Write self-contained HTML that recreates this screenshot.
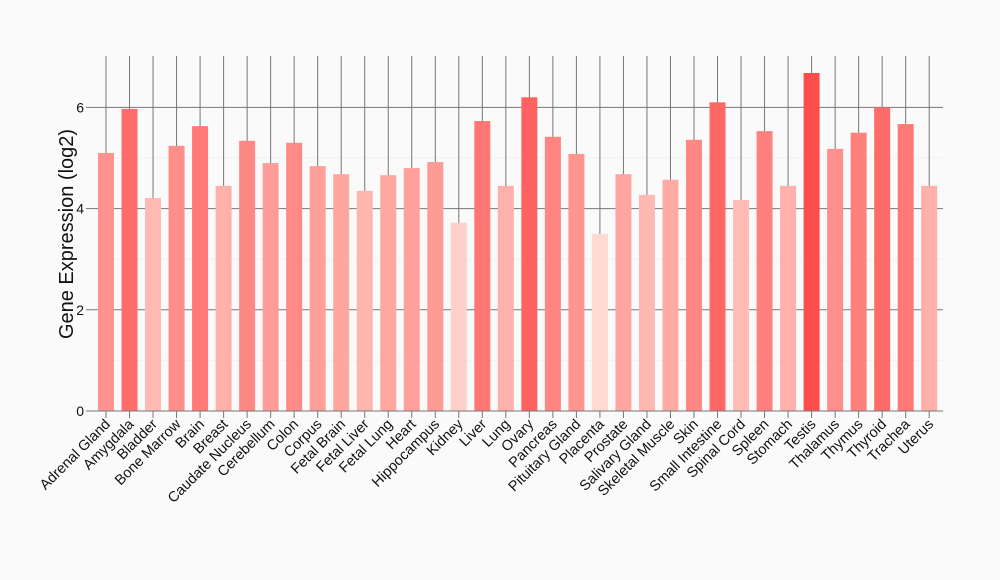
<!DOCTYPE html>
<html><head><meta charset="utf-8"><style>body{margin:0;background:#fafafa}svg{display:block}</style></head><body>
<svg id="s" width="1000" height="580" xmlns="http://www.w3.org/2000/svg" font-family="Liberation Sans, sans-serif">
<rect width="1000" height="580" fill="#fafafa"/>
<g id="g"></g>
<text transform="translate(73,234) rotate(-90)" text-anchor="middle" font-size="20" fill="#111">Gene Expression (log2)</text>
</svg>
<script>
const names=["Adrenal Gland","Amygdala","Bladder","Bone Marrow","Brain","Breast","Caudate Nucleus","Cerebellum","Colon","Corpus","Fetal Brain","Fetal Liver","Fetal Lung","Heart","Hippocampus","Kidney","Liver","Lung","Ovary","Pancreas","Pituitary Gland","Placenta","Prostate","Salivary Gland","Skeletal Muscle","Skin","Small Intestine","Spinal Cord","Spleen","Stomach","Testis","Thalamus","Thymus","Thyroid","Trachea","Uterus"];
const vals=[5.10,5.97,4.21,5.24,5.63,4.45,5.34,4.90,5.30,4.84,4.68,4.35,4.66,4.80,4.92,3.72,5.73,4.45,6.20,5.42,5.08,3.50,4.68,4.27,4.57,5.36,6.10,4.17,5.53,4.45,6.68,5.18,5.50,6.00,5.67,4.45];
const y0=411,k=50.6,x0=106,dx=23.52;
let h='';
for(const v of [2,4,6]){const y=y0-v*k;h+=`<line x1="92" x2="943" y1="${y}" y2="${y}" stroke="#777" stroke-width="1"/>`;}
for(const v of [1,3,5]){const y=y0-v*k;h+=`<line x1="92" x2="943" y1="${y}" y2="${y}" stroke="#f2f2f2" stroke-width="1"/>`;}
for(let i=0;i<36;i++){const x=x0+i*dx;h+=`<line x1="${x}" x2="${x}" y1="56" y2="418" stroke="#777" stroke-width="1"/>`;}
for(let i=0;i<36;i++){const x=x0+i*dx,v=vals[i],t=Math.max(0,Math.min(1,(v-3.5)/3.2));
const g=Math.round(218-t*142),b=Math.round(210-t*134);
h+=`<rect x="${x-8}" y="${y0-v*k}" width="16" height="${v*k}" fill="rgb(255,${g},${b})"/>`;
h+=`<text transform="translate(${x+5},${425}) rotate(-45)" text-anchor="end" font-size="14.5" fill="#111">${names[i]}</text>`;}
h+=`<line x1="92" x2="943" y1="${y0}" y2="${y0}" stroke="#777" stroke-width="1"/>`;
for(const v of [0,2,4,6]){const y=y0-v*k;h+=`<line x1="86" x2="92" y1="${y}" y2="${y}" stroke="#777"/><text x="84" y="${y+5}" text-anchor="end" font-size="14" fill="#111">${v}</text>`;}
document.getElementById('g').innerHTML=h;
</script>
</body></html>
